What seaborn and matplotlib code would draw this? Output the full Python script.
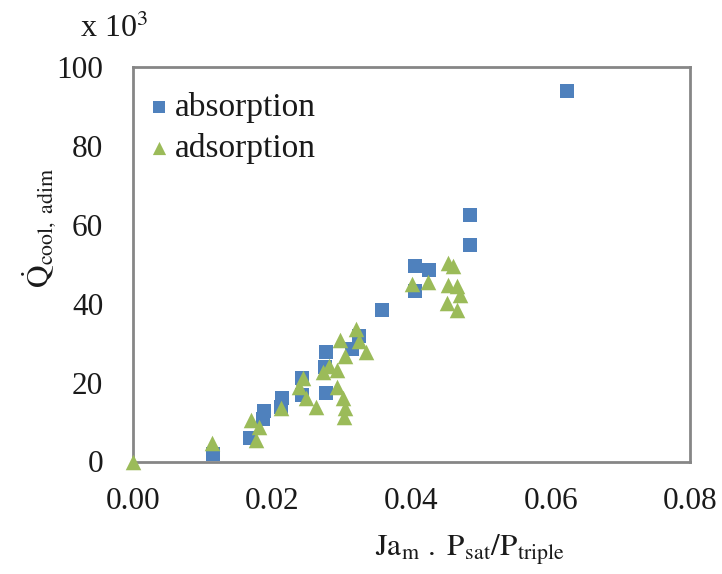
import matplotlib
matplotlib.use("Agg")
import matplotlib.pyplot as plt
import seaborn as sns
import pandas as pd

# Data (x: Ja_m . Psat/Ptriple, y: Q_cool,adim in units of 10^3)
abs_x = [0.0623, 0.0484, 0.0484, 0.0405, 0.0425, 0.0405, 0.0358, 0.0324, 0.0315,
         0.0277, 0.0276, 0.0277, 0.0243, 0.0243, 0.0214, 0.0213, 0.0188, 0.0187,
         0.0168, 0.0115]
abs_y = [93.8, 62.6, 55.0, 49.6, 48.5, 43.2, 38.5, 31.8, 28.5,
         27.7, 23.9, 17.3, 21.1, 16.8, 16.1, 13.8, 12.8, 10.8,
         5.9, 1.9]
ads_x = [0.0, 0.0113, 0.0170, 0.0181, 0.0177, 0.0212, 0.0238, 0.0244, 0.0249,
         0.0263, 0.0273, 0.0282, 0.0293, 0.0293, 0.0302, 0.0304, 0.0303, 0.0298,
         0.0305, 0.0321, 0.0324, 0.0334, 0.0452, 0.0459, 0.0400, 0.0423, 0.0452,
         0.0465, 0.0469, 0.0451, 0.0465]
ads_y = [0.0, 4.6, 10.5, 8.8, 5.4, 13.6, 18.9, 21.1, 16.0,
         13.7, 22.7, 24.2, 23.2, 18.9, 16.0, 13.5, 11.3, 30.9,
         26.7, 33.7, 30.5, 27.8, 50.2, 49.5, 44.9, 45.4, 44.7,
         44.4, 42.3, 40.2, 38.4]
series_names = ["absorption", "adsorption"]
x_ticks = [0.00, 0.02, 0.04, 0.06, 0.08]
y_ticks = [0, 20, 40, 60, 80, 100]

df = pd.DataFrame({
    "x": abs_x + ads_x,
    "y": abs_y + ads_y,
    "series": [series_names[0]] * len(abs_x) + [series_names[1]] * len(ads_x),
})

sns.set_style("white")
plt.rcParams["font.family"] = ["Liberation Serif", "DejaVu Serif"]
plt.rcParams["mathtext.fontset"] = "stix"

W, H = 722, 574
fig = plt.figure(figsize=(W / 100, H / 100), dpi=100)
L, R, T, B = 133, 690, 67, 461.5
ax = fig.add_axes([L / W, 1 - B / H, (R - L) / W, (B - T) / H])

palette = {"absorption": "#4F81BD", "adsorption": "#9BBB59"}
markers = {"absorption": "s", "adsorption": "^"}
sizes_ = {"absorption": 95, "adsorption": 125}
for name in series_names:
    sub = df[df["series"] == name]
    sns.scatterplot(data=sub, x="x", y="y", color=palette[name], marker=markers[name],
                    s=sizes_[name], linewidth=0, ax=ax, label=name, clip_on=False, zorder=3)

ax.set_xlim(0, 0.08)
ax.set_ylim(0, 100)
ax.set_xticks(x_ticks)
ax.set_yticks(y_ticks)
ax.set_xticklabels([f"{v:.2f}" for v in x_ticks])
ax.set_yticklabels([str(v) for v in y_ticks])

gray = "#868686"
txt = "#1a1a1a"
for sp in ax.spines.values():
    sp.set_color(gray)
    sp.set_linewidth(2)
    sp.set_visible(True)
ax.tick_params(axis="both", direction="out", length=7.5, width=2, color=gray,
               labelsize=22.5, labelcolor=txt)
ax.tick_params(axis="x", pad=11)
ax.tick_params(axis="y", pad=14)

ax.set_xlabel(r"$\mathrm{Ja_m\ .\ P_{sat}/P_{triple}}$", fontsize=22.5, color=txt)
ax.xaxis.set_label_coords((470 - L) / (R - L), (B - 533) / (B - T))
ax.set_ylabel(r"$\dot{\mathrm{Q}}_{\mathrm{cool,\ adim}}$", fontsize=22.5, color=txt)
ax.yaxis.set_label_coords((58 - L) / (R - L), (B - 228) / (B - T))

fig.text(80 / W, 1 - 37 / H, r"x 10$^{3}$", fontsize=23, color=txt,
         va="baseline", ha="left")

leg = ax.legend(loc="upper left", frameon=False, fontsize=24, handletextpad=0.3,
                handlelength=0.4, borderaxespad=0, borderpad=0, labelspacing=0.3,
                markerscale=0.85,
                bbox_to_anchor=((152 - L) / (R - L), (B - 92) / (B - T)))
for t in leg.get_texts():
    t.set_color(txt)

fig.savefig("out.png", dpi=100)
